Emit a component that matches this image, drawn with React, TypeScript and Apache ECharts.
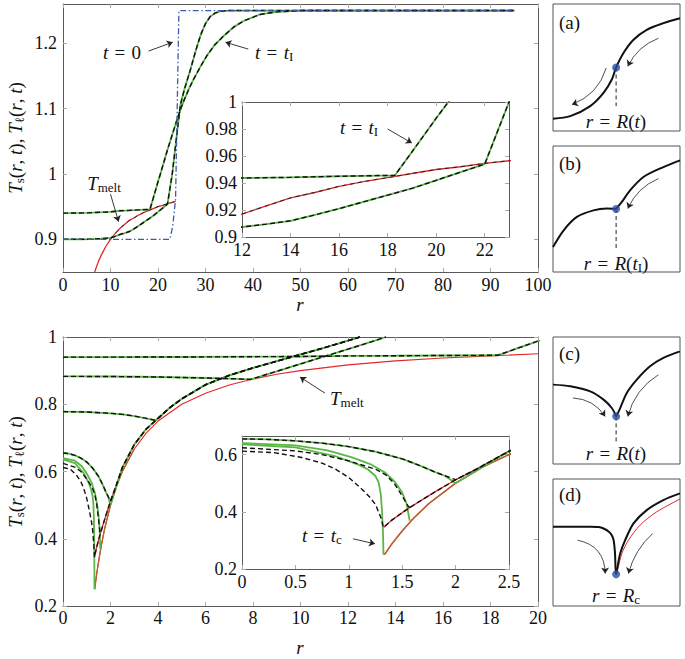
import React, { useEffect, useRef } from "react";
import * as echarts from "echarts";

const FONT = "Liberation Serif";
const GREEN = "#5cb547";
const RED = "#e3262a";
const BLUE = "#3d5ca8";
const BROWN = "#b5622c";
const DOT = "#2b4ea3";
const DASH = [5, 3];

// ---------------- tick labels ----------------
const topXTicks = [0, 10, 20, 30, 40, 50, 60, 70, 80, 90, 100];
const topYTicks = [0.9, 1, 1.1, 1.2];
const topInsetXTicks = [12, 14, 16, 18, 20, 22];
const topInsetYTicks = [0.9, 0.92, 0.94, 0.96, 0.98, 1];
const botXTicks = [0, 2, 4, 6, 8, 10, 12, 14, 16, 18, 20];
const botYTicks = [0.2, 0.4, 0.6, 0.8, 1];
const botInsetXTicks = [0, 0.5, 1, 1.5, 2, 2.5];
const botInsetYTicks = [0.2, 0.4, 0.6];

// ---------------- top figure data ----------------
const t0R = [0, 22.5, 23.1, 23.7, 24.4, 95];
const t0T = [0.9, 0.9, 0.92, 0.962, 1.25, 1.25];

const tMeltTopR = [6.67, 7, 7.5, 8, 8.5, 9, 10, 11, 12, 13, 14, 15, 16, 17, 18, 19, 20, 21, 22, 23, 23.7];
const tMeltTopT = [0.85, 0.857, 0.867, 0.875, 0.882, 0.889, 0.9, 0.909, 0.917, 0.923, 0.929, 0.933, 0.9375, 0.941, 0.944, 0.947, 0.95, 0.952, 0.9545, 0.9565, 0.958];

const curveAR = [0, 5, 10, 12, 14, 16, 18.3, 19, 20, 20.5, 22, 23, 24, 24.8, 25.5, 26.5, 27.5, 29, 30.3, 32, 33.8, 36, 38, 41.5, 45, 50, 95];
const curveAT = [0.94, 0.9405, 0.942, 0.9437, 0.9442, 0.945, 0.9457, 0.963, 0.988, 1.0, 1.037, 1.06, 1.083, 1.1, 1.113, 1.13, 1.145, 1.165, 1.181, 1.198, 1.211, 1.225, 1.234, 1.244, 1.248, 1.25, 1.25];

const curveBR = [0, 4, 6, 8, 10, 11, 12, 13, 14, 15, 16, 17, 18, 19, 20, 21, 22, 23, 23.8, 24.7, 25.5, 26.8, 28, 29, 30, 31, 32, 33.2, 35, 95];
const curveBT = [0.9, 0.9, 0.9004, 0.901, 0.9022, 0.9045, 0.9074, 0.9095, 0.912, 0.9163, 0.921, 0.926, 0.931, 0.936, 0.942, 0.948, 0.954, 1.0, 1.05, 1.105, 1.128, 1.159, 1.19, 1.213, 1.23, 1.241, 1.246, 1.249, 1.25, 1.25];

// ---------------- bottom figure data ----------------
const tMeltBotR = [1.333, 1.35, 1.4, 1.45, 1.5, 1.6, 1.75, 2, 2.25, 2.5, 3, 3.5, 4, 5, 6, 7, 8, 9, 10, 12, 14, 16, 18, 20];
const tMeltBotT = [0.25, 0.259, 0.286, 0.31, 0.333, 0.375, 0.429, 0.5, 0.556, 0.6, 0.667, 0.714, 0.75, 0.8, 0.833, 0.857, 0.875, 0.889, 0.9, 0.917, 0.929, 0.9375, 0.944, 0.95];

const envR = [1.325, 1.4, 1.5, 1.58, 1.7, 1.8, 1.9, 2.0, 2.2, 2.5, 3, 3.5, 4, 4.5, 5, 6, 7, 8, 9, 10, 11, 12, 12.5];
const envT = [0.345, 0.37, 0.397, 0.417, 0.445, 0.468, 0.49, 0.512, 0.55, 0.612, 0.68, 0.726, 0.758, 0.79, 0.816, 0.858, 0.886, 0.908, 0.928, 0.948, 0.968, 0.989, 1.0];

const p2R = [0, 2, 4, 5, 6, 7, 7.9, 9, 10, 11, 12, 13, 13.6];
const p2T = [0.883, 0.8825, 0.881, 0.8795, 0.878, 0.876, 0.874, 0.898, 0.92, 0.942, 0.964, 0.986, 1.0];

const p3R = [0, 1, 2, 2.5, 3, 3.5, 3.9];
const p3T = [0.778, 0.777, 0.773, 0.77, 0.765, 0.758, 0.752];

const aR = [0, 0.25, 0.5, 0.75, 1.0, 1.25, 1.5, 1.6, 1.7, 1.8, 1.9, 1.98];
const aT = [0.655, 0.653, 0.648, 0.64, 0.628, 0.61, 0.585, 0.571, 0.556, 0.54, 0.526, 0.515];
const aGreenEndR = [2.0];
const aGreenEndT = [0.5];

const bGreenR = [0, 0.5, 0.8, 1.03, 1.2, 1.34, 1.43, 1.5, 1.54, 1.57];
const bGreenT = [0.64, 0.632, 0.615, 0.59, 0.567, 0.537, 0.505, 0.467, 0.43, 0.369];
const bDashR = [0, 0.5, 0.75, 1.0, 1.25, 1.35, 1.43, 1.5, 1.56];
const bDashT = [0.624, 0.613, 0.6, 0.578, 0.549, 0.528, 0.497, 0.455, 0.417];

const cGreenR = [0, 0.5, 0.87, 1.0, 1.1, 1.18, 1.25, 1.28, 1.3, 1.31, 1.32, 1.325];
const cGreenT = [0.636, 0.625, 0.595, 0.577, 0.563, 0.548, 0.525, 0.502, 0.46, 0.409, 0.33, 0.25];
const cDashR = [0, 0.3, 0.56, 0.75, 0.87, 1.0, 1.12, 1.2, 1.25, 1.3, 1.325];
const cDashT = [0.612, 0.607, 0.59, 0.57, 0.55, 0.52, 0.48, 0.45, 0.425, 0.38, 0.345];

// ---------------- schematic panels (normalised 0..1) ----------------
const panelALeft = [[0, 0.097], [0.136, 0.117], [0.293, 0.196], [0.398, 0.3], [0.463, 0.405], [0.497, 0.5], [0.555, 0.614], [0.634, 0.718], [0.738, 0.796], [0.869, 0.849], [1, 0.888]];
const panelBLeft = [[0, 0.198], [0.084, 0.331], [0.188, 0.437], [0.319, 0.489], [0.424, 0.503], [0.497, 0.5]];
const panelBRight = [[0.497, 0.5], [0.542, 0.556], [0.607, 0.648], [0.712, 0.754], [0.869, 0.833], [1, 0.886]];
const panelCLeft = [[0, 0.625], [0.136, 0.612], [0.293, 0.572], [0.398, 0.507], [0.463, 0.441], [0.497, 0.375]];
const panelCRight = [[0.497, 0.375], [0.524, 0.428], [0.581, 0.559], [0.66, 0.664], [0.764, 0.769], [0.869, 0.835], [1, 0.887]];
const panelDLeft = [[0, 0.624], [0.293, 0.624], [0.36, 0.622], [0.398, 0.61], [0.44, 0.585], [0.463, 0.558], [0.477, 0.52], [0.484, 0.466], [0.489, 0.4], [0.492, 0.308], [0.497, 0.25]];
const panelDRight = [[0.497, 0.25], [0.508, 0.308], [0.529, 0.413], [0.568, 0.518], [0.634, 0.65], [0.738, 0.755], [0.869, 0.834], [1, 0.887]];
const panelDRed = [[0.497, 0.25], [0.508, 0.282], [0.542, 0.413], [0.594, 0.518], [0.686, 0.637], [0.817, 0.742], [1, 0.842]];
const panelDots = [[0.497, 0.5], [0.497, 0.5], [0.497, 0.375], [0.497, 0.25]];
const panelDashBottom = [0.196, 0.185, 0.165];

const zip = (xs: number[], ys: number[]) => xs.map((x, i) => [x, ys[i]]);
const envFrom = (r0: number) => zip(envR, envT).filter((p) => p[0] >= r0);

function ln(data: any[], xi: number, yi: number, color: string, width: number, type: any = "solid", z = 2, smooth: any = false) {
  return {
    type: "line", xAxisIndex: xi, yAxisIndex: yi, data, showSymbol: false, symbol: "none",
    lineStyle: { color, width, type }, z, silent: true, clip: true, smooth,
  };
}
const grn = (d: any[], xi: number, yi: number) => ln(d, xi, yi, GREEN, 1.8, "solid", 3);
const dsh = (d: any[], xi: number, yi: number) => ln(d, xi, yi, "#111", 1.4, DASH, 4);

function arrows(xi: number, yi: number, list: { c: number[][]; k: number }[], width = 0.9) {
  return list.map((a) => ({
    type: "lines", coordinateSystem: "cartesian2d", xAxisIndex: xi, yAxisIndex: yi, silent: true, z: 6,
    symbol: ["none", "arrow"], symbolSize: 6,
    lineStyle: { color: "#222", width, curveness: a.k, opacity: 1 },
    data: [{ coords: a.c }],
  }));
}

const axisLine = { show: true, onZero: false, lineStyle: { color: "#5a5a5a", width: 1 } };
const tick = (vals: number[]) => ({ show: true, inside: true, length: 4, customValues: vals, lineStyle: { color: "#aaaaaa", width: 1 } });
const fmt = (v: number) => String(+Number(v).toFixed(2));
function xAxes(gi: number, min: number, max: number, vals: number[], margin: number) {
  return [
    { type: "value", gridIndex: gi, position: "bottom", min, max, axisLine, axisTick: tick(vals), splitLine: { show: false },
      axisLabel: { show: true, customValues: vals, margin, fontSize: 18, fontFamily: FONT, color: "#111", formatter: fmt } },
    { type: "value", gridIndex: gi, position: "top", min, max, axisLine, axisTick: tick(vals), splitLine: { show: false }, axisLabel: { show: false } },
  ];
}
function yAxes(gi: number, min: number, max: number, vals: number[], margin: number) {
  return [
    { type: "value", gridIndex: gi, position: "left", min, max, axisLine, axisTick: tick(vals), splitLine: { show: false },
      axisLabel: { show: true, customValues: vals, margin, fontSize: 18, fontFamily: FONT, color: "#111", formatter: fmt } },
    { type: "value", gridIndex: gi, position: "right", min, max, axisLine, axisTick: tick(vals), splitLine: { show: false }, axisLabel: { show: false } },
  ];
}
const hiddenAxis = (gi: number) => ({ type: "value", gridIndex: gi, min: 0, max: 1, show: false });

const RICH: any = {
  it: { fontFamily: FONT, fontStyle: "italic", fontSize: 19, lineHeight: 22, fill: "#111", color: "#111" },
  rm: { fontFamily: FONT, fontSize: 19, lineHeight: 22, fill: "#111", color: "#111" },
  sub: { fontFamily: FONT, fontSize: 13, lineHeight: 13, verticalAlign: "bottom", fill: "#111", color: "#111" },
};
const EQ = "{rm|\u2004=\u2004}";
function T(x: number, y: number, text: string, align = "center", rotation = 0) {
  return {
    type: "text", x, y, rotation, silent: true, z: 50,
    style: { text, rich: RICH, align, verticalAlign: "middle", fill: "#111", fontFamily: FONT, fontSize: 19 },
  };
}

export default function App() {
  const ref = useRef<HTMLDivElement>(null);
  useEffect(() => {
    if (!ref.current) return;
    const chart = echarts.init(ref.current, null, { renderer: "svg" });

    const grids = [
      { left: 63, top: 4, width: 475, height: 268 },
      { left: 242, top: 102, width: 267, height: 135, show: true, backgroundColor: "#fff", borderWidth: 0 },
      { left: 63, top: 337, width: 475, height: 269 },
      { left: 242, top: 436, width: 267, height: 133, show: true, backgroundColor: "#fff", borderWidth: 0 },
      { left: 553, top: 4, width: 127, height: 127, show: true, borderColor: "#555", borderWidth: 1 },
      { left: 553, top: 146, width: 127, height: 126, show: true, borderColor: "#555", borderWidth: 1 },
      { left: 553, top: 337, width: 127, height: 127, show: true, borderColor: "#555", borderWidth: 1 },
      { left: 553, top: 479, width: 127, height: 127, show: true, borderColor: "#555", borderWidth: 1 },
    ].map((g) => ({ ...g, containLabel: false, outerBoundsMode: "none" }));

    const xAxis = [
      ...xAxes(0, 0, 100, topXTicks, 4),
      ...xAxes(1, 12, 23, topInsetXTicks, 4),
      ...xAxes(2, 0, 20, botXTicks, 3),
      ...xAxes(3, 0, 2.5, botInsetXTicks, 4),
      hiddenAxis(4), hiddenAxis(5), hiddenAxis(6), hiddenAxis(7),
    ];
    const yAxis = [
      ...yAxes(0, 0.85, 1.26, topYTicks, 6),
      ...yAxes(1, 0.9, 1, topInsetYTicks, 5),
      ...yAxes(2, 0.2, 1, botYTicks, 6),
      ...yAxes(3, 0.2, 0.665, botInsetYTicks, 5),
      hiddenAxis(4), hiddenAxis(5), hiddenAxis(6), hiddenAxis(7),
    ];

    const A = zip(curveAR, curveAT);
    const B = zip(curveBR, curveBT);
    const tmTop = zip(tMeltTopR, tMeltTopT);
    const series: any[] = [];

    // top main
    series.push(ln(zip(t0R, t0T), 0, 0, BLUE, 1.3, [6, 2.5, 1.5, 2.5], 5));
    series.push(ln(tmTop, 0, 0, RED, 1.3, "solid", 2));
    series.push(ln(tmTop.filter((p) => p[0] >= 10), 0, 0, "#222", 0.9, [4, 4], 4));
    series.push(grn(A, 0, 0), grn(B, 0, 0), dsh(A, 0, 0), dsh(B, 0, 0));
    // top inset
    series.push(ln(tmTop, 2, 2, RED, 1.4, "solid", 2));
    series.push(ln(tmTop, 2, 2, "#222", 1.0, [4, 4], 4));
    series.push(grn(A, 2, 2), grn(B, 2, 2), dsh(A, 2, 2), dsh(B, 2, 2));

    // bottom (main + inset share the same arrays)
    const tmBot = zip(tMeltBotR, tMeltBotT);
    const P2 = zip(p2R, p2T);
    const P3 = zip(p3R, p3T).concat(envFrom(4));
    const aDash = zip(aR, aT).concat(envFrom(2.0));
    const aGreen = zip(aR, aT).filter((p) => p[0] <= 1.9).concat(zip(aGreenEndR, aGreenEndT), envFrom(2.5));
    const bGreen = zip(bGreenR, bGreenT);
    const bDash = zip(bDashR, bDashT).concat(envFrom(1.58).slice(0, 1));
    const cGreen = zip(cGreenR, cGreenT);
    const cDash = zip(cDashR, cDashT).concat(envFrom(1.4));
    [[4, 4], [6, 6]].forEach(([xi, yi]) => {
      const inset = xi === 6;
      series.push(ln(tmBot, xi, yi, RED, 1.1, "solid", 2));
      series.push(ln(tmBot.filter((p) => p[0] <= 3), xi, yi, BROWN, inset ? 1.5 : 1.3, "solid", 3));
      series.push(ln(envFrom(0).filter((p) => p[0] <= 2.6), xi, yi, RED, 1.3, "solid", 2));
      series.push(grn(A, xi, yi), grn(P2, xi, yi), grn(P3, xi, yi), grn(aGreen, xi, yi), grn(bGreen, xi, yi), grn(cGreen, xi, yi));
      series.push(dsh(A, xi, yi), dsh(P2, xi, yi), dsh(P3, xi, yi), dsh(aDash, xi, yi), dsh(bDash, xi, yi), dsh(cDash, xi, yi));
    });

    // annotation arrows
    series.push(...arrows(0, 0, [
      { c: [[18.0, 1.188], [23.1, 1.2015]], k: 0 },
      { c: [[39.0, 1.191], [34.2, 1.2015]], k: 0 },
      { c: [[10.0, 0.969], [11.7, 0.927]], k: 0 },
    ]));
    series.push(...arrows(2, 2, [{ c: [[18.0, 0.98], [19.0, 0.9696]], k: 0 }]));
    series.push(...arrows(4, 4, [{ c: [[11.03, 0.833], [9.98, 0.881]], k: 0 }]));
    series.push(...arrows(6, 6, [{ c: [[1.04, 0.3055], [1.245, 0.288]], k: 0 }]));

    // schematic panels
    const K = "#111";
    series.push(ln(panelALeft, 8, 8, K, 2, "solid", 3, 0.3));
    series.push(ln(panelBLeft, 9, 9, K, 2, "solid", 3, 0.3), ln(panelBRight, 9, 9, K, 2, "solid", 3, 0.3));
    series.push(ln(panelCLeft, 10, 10, K, 2, "solid", 3, 0.3), ln(panelCRight, 10, 10, K, 2, "solid", 3, 0.3));
    series.push(ln(panelDRed, 11, 11, RED, 1, "solid", 3, 0.3));
    series.push(ln(panelDLeft, 11, 11, K, 2, "solid", 4, 0.2), ln(panelDRight, 11, 11, K, 2, "solid", 4, 0.3));
    panelDashBottom.forEach((yb, i) => {
      const d = panelDots[i];
      series.push(ln([d, [d[0], yb]], 8 + i, 8 + i, "#222", 1, [4, 3], 3));
    });
    panelDots.forEach((d, i) => {
      series.push({ type: "scatter", xAxisIndex: 8 + i, yAxisIndex: 8 + i, data: [d], symbolSize: 8, itemStyle: { color: DOT }, z: 6, silent: true });
    });
    series.push(...arrows(8, 8, [
      { c: [[0.83, 0.73], [0.589, 0.509]], k: -0.2 },
      { c: [[0.419, 0.496], [0.149, 0.209]], k: 0.25 },
    ], 0.8));
    series.push(...arrows(9, 9, [{ c: [[0.83, 0.741], [0.589, 0.503]], k: -0.2 }], 0.8));
    series.push(...arrows(10, 10, [
      { c: [[0.157, 0.52], [0.411, 0.375]], k: 0.25 },
      { c: [[0.83, 0.703], [0.589, 0.375]], k: -0.2 },
    ], 0.8));
    series.push(...arrows(11, 11, [
      { c: [[0.194, 0.518], [0.411, 0.255]], k: 0.4 },
      { c: [[0.785, 0.571], [0.594, 0.255]], k: -0.15 },
    ], 0.8));

    const yTitle = "{it|T}{sub|s}{rm|(}{it|r}{rm|, }{it|t}{rm|), }{it|T}{sub|ℓ}{rm|(}{it|r}{rm|, }{it|t}{rm|)}";
    const elements = [
      T(15, 138, yTitle, "center", Math.PI / 2),
      T(15, 472, yTitle, "center", Math.PI / 2),
      T(300, 304, "{it|r}"),
      T(300, 647, "{it|r}"),
      T(122, 52, "{it|t}" + EQ + "{rm|0}"),
      T(255, 52, "{it|t}" + EQ + "{it|t}{sub|I}", "left"),
      T(104, 183, "{it|T}{sub|melt}"),
      T(359, 127, "{it|t}" + EQ + "{it|t}{sub|I}"),
      T(330, 398, "{it|T}{sub|melt}", "left"),
      T(302, 535, "{it|t}" + EQ + "{it|t}{sub|c}", "left"),
      T(559, 22, "{rm|(a)}", "left"),
      T(559, 163, "{rm|(b)}", "left"),
      T(559, 353, "{rm|(c)}", "left"),
      T(559, 494, "{rm|(d)}", "left"),
      T(616, 121, "{it|r}" + EQ + "{it|R}{rm|(}{it|t}{rm|)}"),
      T(616, 263, "{it|r}" + EQ + "{it|R}{rm|(}{it|t}{sub|I}{rm|)}"),
      T(616, 453, "{it|r}" + EQ + "{it|R}{rm|(}{it|t}{rm|)}"),
      T(616, 595, "{it|r}" + EQ + "{it|R}{sub|c}"),
    ];

    chart.setOption({
      animation: false,
      backgroundColor: "#fff",
      grid: grids,
      xAxis,
      yAxis,
      series,
      graphic: { elements },
    });
    return () => chart.dispose();
  }, []);
  return <div ref={ref} style={{ position: "absolute", left: 0, top: 0, width: 685, height: 659 }} />;
}
